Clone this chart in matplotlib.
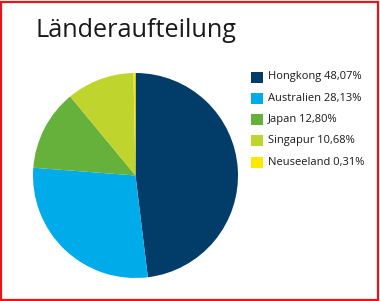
import matplotlib
matplotlib.use("Agg")
import matplotlib.pyplot as plt
from matplotlib.patches import Rectangle

# data
countries = ["Hongkong", "Australien", "Japan", "Singapur", "Neuseeland"]
shares = [48.07, 28.13, 12.80, 10.68, 0.31]
colors = ["#023d6a", "#00abe9", "#66b03c", "#c0d42e", "#fbe900"]

W, H = 380, 301
fig = plt.figure(figsize=(W / 100, H / 100), dpi=100)
fig.patch.set_facecolor("white")

# red frame
fig.add_artist(Rectangle((1 / W, 1 / H), 377 / W, 298 / H, transform=fig.transFigure,
                         fill=False, edgecolor="#e8141b", linewidth=1.6))

# title
fig.text(35 / W, 1 - 37 / H, "Länderaufteilung", fontsize=18.2, family="Open Sans",
         color="#1a1a1a", va="baseline", ha="left")

# pie
cx, cy, r = 135.5, 175.5, 102.5
ax = fig.add_axes([(cx - r) / W, (H - cy - r) / H, 2 * r / W, 2 * r / H])
ax.pie(shares, colors=colors, startangle=90, counterclock=False,
       wedgeprops=dict(linewidth=0))
ax.set_xlim(-1, 1)
ax.set_ylim(-1, 1)
ax.set_aspect("equal")
ax.axis("off")

# legend
for i, (name, val, col) in enumerate(zip(countries, shares, colors)):
    yc = 77 + i * 21.3
    fig.add_artist(Rectangle((251 / W, 1 - (yc + 5.5) / H), 12 / W, 11 / H,
                             transform=fig.transFigure, facecolor=col, edgecolor="none"))
    label = f"{name} {val:.2f}%".replace(".", ",")
    fig.text(268 / W, 1 - yc / H, label, fontsize=8, family="Open Sans",
             color="#1a1a1a", va="center", ha="left")

fig.savefig("out.png", dpi=100)
